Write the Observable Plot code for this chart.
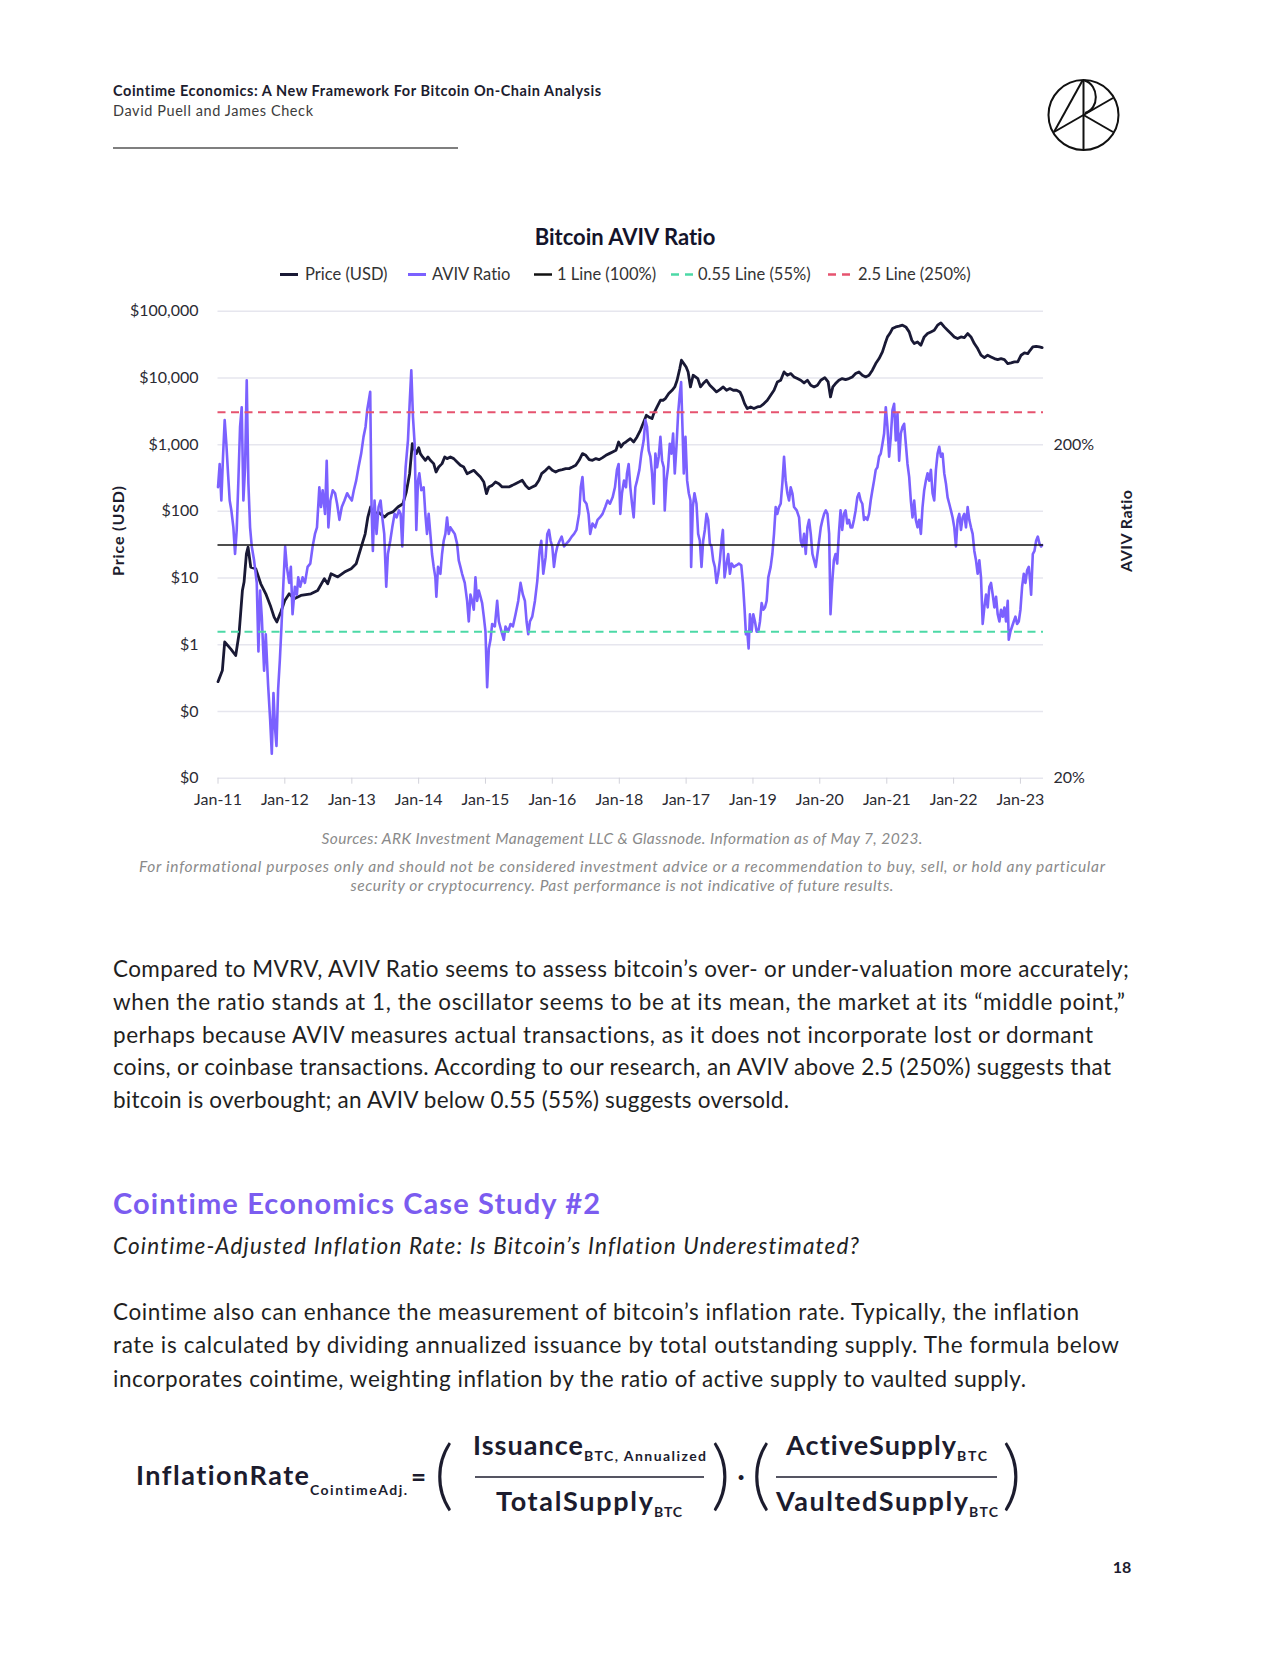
<!DOCTYPE html>
<html>
<head>
<meta charset="utf-8">
<script src="https://cdn.jsdelivr.net/npm/d3@7"></script>
<script src="https://cdn.jsdelivr.net/npm/@observablehq/plot@0.6"></script>
<style>
html, body { margin: 0; padding: 0; background: #fff; }
#page { position: relative; width: 1280px; height: 1656px; overflow: hidden; background: #fff; }
#txt { position: absolute; left: 0; top: 0; font-family: Lato, sans-serif; font-variant-ligatures: none; }
#chart { position: absolute; left: 100px; top: 290px; width: 1060px; height: 520px; }
#chart svg { position: absolute; left: 0; top: 0; }
</style>
</head>
<body>
<div id="page">
<svg id="txt" width="1280" height="1656" xmlns="http://www.w3.org/2000/svg">
  <!-- header -->
  <text x="113" y="95.5" font-size="14.5" font-weight="700" fill="#1c1c2e" textLength="488" lengthAdjust="spacing">Cointime Economics: A New Framework For Bitcoin On-Chain Analysis</text>
  <text x="113" y="116" font-size="14.5" fill="#3c3c3c" textLength="200" lengthAdjust="spacing">David Puell and James Check</text>
  <line x1="113" x2="458" y1="148" y2="148" stroke="#555" stroke-width="1.5"/>
  <g transform="translate(1083.5,115)" fill="none" stroke="#111" stroke-width="2">
    <circle r="35"/>
    <line x1="0" y1="-35" x2="0" y2="35"/>
    <line x1="-29.5" y1="17" x2="-1" y2="-34.5"/>
    <line x1="-29.5" y1="17" x2="29.5" y2="-17"/>
    <line x1="0" y1="0" x2="29.5" y2="17"/>
    <path d="M1,-34.5 C16,-30 16,-6 1.5,-2"/>
  </g>

  <!-- chart title and legend -->
  <text x="625" y="245" text-anchor="middle" font-size="22" font-weight="700" fill="#14142b">Bitcoin AVIV Ratio</text>
  <g font-size="16.5" fill="#333">
    <line x1="280" x2="298" y1="274.5" y2="274.5" stroke="#191935" stroke-width="3"/>
    <text x="305" y="280">Price (USD)</text>
    <line x1="408" x2="426" y1="274.5" y2="274.5" stroke="#7b61ff" stroke-width="3"/>
    <text x="432" y="280">AVIV Ratio</text>
    <line x1="534" x2="552" y1="274.5" y2="274.5" stroke="#121212" stroke-width="2.5"/>
    <text x="557" y="280">1 Line (100%)</text>
    <line x1="671" x2="695" y1="274.5" y2="274.5" stroke="#4cd9a6" stroke-width="2.5" stroke-dasharray="8,6"/>
    <text x="698" y="280">0.55 Line (55%)</text>
    <line x1="828" x2="852" y1="274.5" y2="274.5" stroke="#e6536f" stroke-width="2.5" stroke-dasharray="8,6"/>
    <text x="858" y="280">2.5 Line (250%)</text>
  </g>

  <!-- axis titles -->
  <text transform="translate(117,531) rotate(-90)" text-anchor="middle" dominant-baseline="central" font-size="16" font-weight="700" fill="#1c1c2e" textLength="90" lengthAdjust="spacing">Price (USD)</text>
  <text transform="translate(1125,531) rotate(-90)" text-anchor="middle" dominant-baseline="central" font-size="16" font-weight="700" fill="#1c1c2e" textLength="82" lengthAdjust="spacing">AVIV Ratio</text>

  <!-- sources -->
  <g font-size="15.5" font-style="italic" fill="#8a8a8a" text-anchor="middle">
    <text x="622" y="844" textLength="601" lengthAdjust="spacing">Sources: ARK Investment Management LLC &amp; Glassnode. Information as of May 7, 2023.</text>
    <text x="622" y="872" textLength="966" lengthAdjust="spacing">For informational purposes only and should not be considered investment advice or a recommendation to buy, sell, or hold any particular</text>
    <text x="622" y="891" textLength="543" lengthAdjust="spacing">security or cryptocurrency. Past performance is not indicative of future results.</text>
  </g>

  <!-- body paragraph 1 -->
  <g font-size="22.5" fill="#1f1f1f">
    <text x="113" y="977" textLength="1016" lengthAdjust="spacing">Compared to MVRV, AVIV Ratio seems to assess bitcoin’s over- or under-valuation more accurately;</text>
    <text x="113" y="1010" textLength="1012" lengthAdjust="spacing">when the ratio stands at 1, the oscillator seems to be at its mean, the market at its “middle point,”</text>
    <text x="113" y="1043" textLength="980" lengthAdjust="spacing">perhaps because AVIV measures actual transactions, as it does not incorporate lost or dormant</text>
    <text x="113" y="1075" textLength="998" lengthAdjust="spacing">coins, or coinbase transactions. According to our research, an AVIV above 2.5 (250%) suggests that</text>
    <text x="113" y="1108" textLength="676" lengthAdjust="spacing">bitcoin is overbought; an AVIV below 0.55 (55%) suggests oversold.</text>
  </g>

  <!-- heading -->
  <text x="113" y="1214" font-size="29" font-weight="700" fill="#7b5cf0" textLength="487" lengthAdjust="spacing">Cointime Economics Case Study #2</text>
  <text x="113" y="1254" font-size="22.5" font-style="italic" fill="#222" textLength="746" lengthAdjust="spacing">Cointime-Adjusted Inflation Rate: Is Bitcoin’s Inflation Underestimated?</text>

  <!-- body paragraph 2 -->
  <g font-size="22.5" fill="#1f1f1f">
    <text x="113" y="1320" textLength="966" lengthAdjust="spacing">Cointime also can enhance the measurement of bitcoin’s inflation rate. Typically, the inflation</text>
    <text x="113" y="1353" textLength="1006" lengthAdjust="spacing">rate is calculated by dividing annualized issuance by total outstanding supply. The formula below</text>
    <text x="113" y="1387" textLength="913" lengthAdjust="spacing">incorporates cointime, weighting inflation by the ratio of active supply to vaulted supply.</text>
  </g>

  <!-- formula -->
  <g font-weight="700" fill="#1c1c2e">
    <text x="136" y="1485" font-size="27" textLength="173" lengthAdjust="spacing">InflationRate</text>
    <text x="310" y="1495" font-size="14" textLength="97" lengthAdjust="spacing">CointimeAdj.</text>
    <text x="411" y="1486" font-size="26">=</text>
    <text x="434" y="1501" font-size="76" font-weight="300">(</text>
    <text x="473" y="1455" font-size="27" textLength="110" lengthAdjust="spacing">Issuance</text>
    <text x="584" y="1461" font-size="14" textLength="122" lengthAdjust="spacing">BTC, Annualized</text>
    <line x1="475" x2="704" y1="1477" y2="1477" stroke="#1c1c2e" stroke-width="1.6"/>
    <text x="496" y="1511" font-size="27" textLength="157" lengthAdjust="spacing">TotalSupply</text>
    <text x="654" y="1517" font-size="14" textLength="28" lengthAdjust="spacing">BTC</text>
    <text x="711" y="1501" font-size="76" font-weight="300">)</text>
    <text x="741" y="1486" font-size="26" text-anchor="middle">·</text>
    <text x="751" y="1501" font-size="76" font-weight="300">(</text>
    <text x="786" y="1455" font-size="27" textLength="170" lengthAdjust="spacing">ActiveSupply</text>
    <text x="957" y="1461" font-size="14" textLength="30" lengthAdjust="spacing">BTC</text>
    <line x1="776" x2="997" y1="1477" y2="1477" stroke="#1c1c2e" stroke-width="1.6"/>
    <text x="776" y="1511" font-size="27" textLength="192" lengthAdjust="spacing">VaultedSupply</text>
    <text x="969" y="1517" font-size="14" textLength="29" lengthAdjust="spacing">BTC</text>
    <text x="1002" y="1501" font-size="76" font-weight="300">)</text>
  </g>

  <text x="1122" y="1573" text-anchor="middle" font-size="16" font-weight="700" fill="#1c1c2e">18</text>
</svg>
<div id="chart"></div>
</div>

<script>
// ---------- data ----------
const xStart = "2011-01-01";
const xEnd = "2023-05-07";
const xTickYears = [2011, 2012, 2013, 2014, 2015, 2016, 2017, 2018, 2019, 2020, 2021, 2022, 2023];
const xTickLabels = ["Jan-11", "Jan-12", "Jan-13", "Jan-14", "Jan-15", "Jan-16", "Jan-18", "Jan-17", "Jan-19", "Jan-20", "Jan-21", "Jan-22", "Jan-23"];
const priceTicks = [100000, 10000, 1000, 100, 10, 1, 0.1, 0.01];
const priceTickLabels = ["$100,000", "$10,000", "$1,000", "$100", "$10", "$1", "$0", "$0"];
const ratioDomain = [0.2, 5.024];
const ratioTicks = [2, 0.2];
const ratioTickLabels = ["200%", "20%"];
const oneLine = 1;
const lowLine = 0.55;
const highLine = 2.5;

const priceYears = [
2011.000,2011.065,2011.100,2011.190,2011.265,2011.315,2011.365,2011.390,2011.425,2011.450,
2011.490,2011.565,2011.640,2011.715,2011.790,2011.840,2011.880,2011.940,2012.000,2012.065,
2012.140,2012.240,2012.390,2012.490,2012.590,2012.640,2012.690,2012.790,2012.890,2012.990,
2013.065,2013.140,2013.200,2013.240,2013.280,2013.340,2013.390,2013.490,2013.540,2013.615,
2013.690,2013.765,2013.815,2013.865,2013.905,2013.965,2014.000,2014.025,2014.060,2014.100,
2014.140,2014.175,2014.225,2014.260,2014.300,2014.350,2014.390,2014.425,2014.475,2014.525,
2014.575,2014.625,2014.675,2014.725,2014.775,2014.825,2014.875,2014.925,2014.975,2015.015,
2015.050,2015.100,2015.150,2015.200,2015.250,2015.300,2015.350,2015.400,2015.450,2015.500,
2015.550,2015.600,2015.650,2015.700,2015.750,2015.800,2015.840,2015.900,2015.950,2016.000,
2016.050,2016.100,2016.150,2016.200,2016.250,2016.300,2016.350,2016.400,2016.450,2016.500,
2016.550,2016.600,2016.650,2016.700,2016.750,2016.800,2016.850,2016.900,2016.950,2016.990,
2017.025,2017.060,2017.100,2017.165,2017.215,2017.265,2017.315,2017.365,2017.405,2017.440,
2017.490,2017.515,2017.565,2017.615,2017.655,2017.690,2017.740,2017.790,2017.830,2017.865,
2017.905,2017.930,2017.965,2018.000,2018.030,2018.065,2018.105,2018.140,2018.175,2018.215,
2018.255,2018.305,2018.355,2018.405,2018.455,2018.505,2018.555,2018.605,2018.655,2018.705,
2018.755,2018.805,2018.840,2018.875,2018.915,2018.965,2019.015,2019.065,2019.115,2019.165,
2019.215,2019.265,2019.315,2019.365,2019.415,2019.465,2019.515,2019.565,2019.615,2019.665,
2019.715,2019.765,2019.815,2019.865,2019.915,2019.965,2020.015,2020.075,2020.125,2020.160,
2020.195,2020.235,2020.285,2020.335,2020.385,2020.435,2020.485,2020.535,2020.585,2020.635,
2020.685,2020.735,2020.785,2020.835,2020.885,2020.935,2020.975,2021.010,2021.045,2021.085,
2021.135,2021.185,2021.235,2021.285,2021.335,2021.375,2021.410,2021.460,2021.510,2021.560,
2021.610,2021.660,2021.710,2021.760,2021.810,2021.860,2021.910,2021.960,2022.010,2022.060,
2022.110,2022.160,2022.210,2022.260,2022.310,2022.360,2022.410,2022.460,2022.510,2022.560,
2022.610,2022.660,2022.710,2022.760,2022.810,2022.860,2022.910,2022.960,2023.010,2023.060,
2023.110,2023.145,2023.185,2023.235,2023.285,2023.325
];
const priceUSD = [
0.28,0.41,1.10,0.87,0.69,1.46,6.5,8.7,23,29,
14.6,13.8,8.2,5.8,3.7,2.6,2.2,3.1,4.6,5.8,
4.9,5.5,5.8,6.5,9.8,8.2,11.6,10.4,12.3,13.8,
16.4,29,46,82,116,78,98,82,92,98,
116,130,195,367,1035,733,900,733,653,582,
653,582,519,389,462,519,653,617,653,617,
550,490,462,367,389,412,367,327,275,184,
232,245,275,260,232,232,232,245,260,275,
292,245,219,232,245,292,367,412,462,412,
389,412,422,437,437,462,490,582,733,692,
596,582,617,596,638,692,733,776,822,1096,
923,1035,1096,1230,1096,1303,1641,2188,2754,2600,
2455,2917,3670,4624,4624,4898,5821,6531,7328,9226,
13800,18400,16400,14600,12300,7330,10960,10350,9770,7330,
8220,9230,7760,6920,6170,6680,7330,6530,6920,6530,
6530,6170,5190,4120,3470,3670,3470,3670,3760,4120,
4620,5500,6530,8710,9230,12300,10960,11600,10350,9770,
9230,8410,9230,7760,7330,7760,9230,10100,8710,5190,
7330,8220,9230,9770,9440,9770,10350,11600,12300,10960,
10350,10960,13030,16400,19500,24550,32730,41200,46240,54950,
58210,59570,61660,58210,48980,36730,32730,34670,30900,41200,
46240,48980,51880,61660,66800,58210,51880,46240,41200,38900,
41200,40270,46240,41200,32730,27540,21880,20180,21880,20650,
19500,18840,19500,18840,16400,16790,17380,17380,21880,23710,
23170,25960,29100,29800,29100,28440
];

const avivYears = [
2011.000,2011.025,2011.050,2011.075,2011.100,2011.125,2011.150,2011.175,2011.200,2011.230,
2011.255,2011.280,2011.305,2011.330,2011.355,2011.380,2011.405,2011.430,2011.455,2011.480,
2011.505,2011.540,2011.580,2011.605,2011.630,2011.655,2011.690,2011.715,2011.750,2011.780,
2011.805,2011.830,2011.855,2011.875,2011.900,2011.925,2011.950,2011.980,2012.005,2012.030,
2012.065,2012.090,2012.115,2012.150,2012.180,2012.200,2012.230,2012.265,2012.300,2012.340,
2012.380,2012.415,2012.450,2012.480,2012.515,2012.540,2012.565,2012.600,2012.625,2012.650,
2012.680,2012.715,2012.750,2012.780,2012.815,2012.850,2012.890,2012.930,2012.965,2013.000,
2013.030,2013.065,2013.100,2013.140,2013.175,2013.205,2013.230,2013.255,2013.275,2013.295,
2013.315,2013.340,2013.370,2013.400,2013.430,2013.460,2013.485,2013.515,2013.540,2013.575,
2013.605,2013.640,2013.670,2013.705,2013.730,2013.755,2013.780,2013.805,2013.840,2013.865,
2013.890,2013.915,2013.940,2013.965,2013.990,2014.010,2014.040,2014.075,2014.100,2014.125,
2014.150,2014.175,2014.200,2014.225,2014.250,2014.265,2014.290,2014.325,2014.350,2014.375,
2014.400,2014.425,2014.450,2014.475,2014.500,2014.540,2014.575,2014.600,2014.625,2014.650,
2014.690,2014.725,2014.750,2014.775,2014.800,2014.825,2014.850,2014.875,2014.900,2014.925,
2014.950,2014.975,2015.000,2015.025,2015.050,2015.075,2015.100,2015.140,2015.175,2015.200,
2015.240,2015.275,2015.300,2015.340,2015.375,2015.410,2015.450,2015.490,2015.525,2015.560,
2015.590,2015.615,2015.640,2015.665,2015.700,2015.740,2015.775,2015.810,2015.835,2015.865,
2015.900,2015.925,2015.950,2015.975,2016.000,2016.025,2016.050,2016.075,2016.110,2016.140,
2016.175,2016.210,2016.250,2016.290,2016.325,2016.360,2016.400,2016.425,2016.450,2016.475,
2016.510,2016.540,2016.565,2016.600,2016.640,2016.675,2016.710,2016.750,2016.790,2016.825,
2016.860,2016.900,2016.935,2016.965,2016.990,2017.015,2017.040,2017.070,2017.100,2017.115,
2017.140,2017.165,2017.190,2017.215,2017.240,2017.265,2017.300,2017.330,2017.365,2017.390,
2017.415,2017.440,2017.465,2017.490,2017.515,2017.540,2017.565,2017.590,2017.615,2017.640,
2017.665,2017.680,2017.705,2017.730,2017.755,2017.780,2017.805,2017.830,2017.855,2017.880,
2017.905,2017.925,2017.945,2017.965,2017.990,2018.015,2018.040,2018.065,2018.075,2018.100,
2018.125,2018.155,2018.180,2018.205,2018.230,2018.255,2018.280,2018.305,2018.330,2018.355,
2018.380,2018.405,2018.430,2018.455,2018.480,2018.505,2018.530,2018.550,2018.575,2018.605,
2018.630,2018.655,2018.680,2018.715,2018.755,2018.790,2018.825,2018.850,2018.875,2018.895,
2018.915,2018.935,2018.955,2018.980,2019.005,2019.030,2019.055,2019.080,2019.105,2019.130,
2019.155,2019.180,2019.205,2019.230,2019.265,2019.290,2019.315,2019.340,2019.365,2019.390,
2019.415,2019.440,2019.465,2019.490,2019.515,2019.540,2019.565,2019.590,2019.615,2019.655,
2019.690,2019.715,2019.740,2019.765,2019.790,2019.815,2019.840,2019.865,2019.890,2019.915,
2019.940,2019.965,2019.990,2020.015,2020.040,2020.065,2020.090,2020.115,2020.140,2020.160,
2020.185,2020.210,2020.235,2020.260,2020.285,2020.310,2020.335,2020.360,2020.385,2020.410,
2020.435,2020.460,2020.485,2020.510,2020.535,2020.560,2020.585,2020.610,2020.635,2020.660,
2020.685,2020.710,2020.735,2020.760,2020.785,2020.810,2020.835,2020.860,2020.885,2020.910,
2020.935,2020.960,2020.985,2021.010,2021.035,2021.060,2021.085,2021.110,2021.135,2021.160,
2021.185,2021.210,2021.235,2021.260,2021.285,2021.310,2021.335,2021.360,2021.385,2021.410,
2021.435,2021.460,2021.485,2021.510,2021.535,2021.560,2021.585,2021.610,2021.635,2021.660,
2021.685,2021.710,2021.735,2021.760,2021.785,2021.810,2021.835,2021.860,2021.885,2021.910,
2021.935,2021.960,2021.985,2022.010,2022.035,2022.060,2022.085,2022.110,2022.135,2022.160,
2022.185,2022.210,2022.235,2022.260,2022.285,2022.310,2022.335,2022.360,2022.385,2022.410,
2022.435,2022.460,2022.485,2022.510,2022.535,2022.560,2022.585,2022.610,2022.635,2022.660,
2022.685,2022.710,2022.735,2022.760,2022.785,2022.810,2022.825,2022.850,2022.875,2022.900,
2022.925,2022.950,2022.975,2023.000,2023.025,2023.050,2023.075,2023.100,2023.125,2023.145,
2023.160,2023.185,2023.210,2023.235,2023.260,2023.285,2023.310,2023.325
];
const avivRatio = [
1.49,1.75,1.36,1.84,2.37,2.01,1.64,1.36,1.27,1.13,
0.94,1.11,1.56,2.26,2.59,1.36,1.71,3.12,1.53,1.13,
0.99,0.90,0.77,0.48,0.73,0.61,0.42,0.54,0.38,0.30,
0.237,0.36,0.28,0.25,0.37,0.45,0.57,0.78,0.99,0.86,
0.77,0.86,0.62,0.75,0.71,0.80,0.75,0.80,0.77,0.86,
0.88,0.99,1.08,1.13,1.49,1.30,1.46,1.24,1.79,1.13,
1.36,1.46,1.43,1.33,1.19,1.30,1.36,1.43,1.39,1.36,
1.46,1.56,1.71,1.88,2.11,2.26,2.54,2.72,2.88,1.30,
0.96,1.36,1.08,1.30,1.36,1.19,1.08,0.75,0.94,1.03,
1.13,1.24,1.21,1.27,1.24,0.99,1.36,1.71,2.06,2.65,
3.34,2.42,2.01,1.11,1.56,1.64,1.46,1.49,1.24,1.08,
1.24,1.08,0.94,0.86,0.80,0.70,0.86,0.82,0.94,1.03,
1.08,1.21,1.08,1.13,1.11,1.08,1.01,0.90,0.86,0.82,
0.77,0.68,0.59,0.71,0.68,0.64,0.80,0.68,0.73,0.70,
0.67,0.61,0.55,0.375,0.49,0.52,0.58,0.57,0.68,0.59,
0.55,0.52,0.57,0.55,0.58,0.57,0.62,0.68,0.77,0.71,
0.68,0.59,0.54,0.59,0.61,0.68,0.78,0.96,1.03,0.82,
0.92,1.08,1.11,1.03,0.99,0.86,0.94,0.99,1.03,1.06,
0.99,1.01,1.03,1.06,1.08,1.11,1.24,1.49,1.60,1.36,
1.33,1.24,1.08,1.16,1.13,1.19,1.21,1.24,1.30,1.36,
1.33,1.39,1.49,1.68,1.75,1.24,1.43,1.56,1.49,1.64,
1.75,1.49,1.33,1.21,1.49,1.56,1.68,1.88,2.06,2.37,
2.26,1.92,1.84,1.64,1.33,1.88,1.71,1.84,2.11,1.79,
1.71,1.27,1.56,1.71,2.01,1.88,2.16,1.64,1.97,2.48,
2.84,3.08,2.26,1.64,2.11,1.56,1.43,1.36,0.86,1.30,
1.43,1.33,1.08,1.03,0.86,1.03,1.11,1.24,1.19,1.01,
0.99,0.90,0.86,0.77,0.82,0.90,1.03,1.11,0.80,0.88,
0.94,0.82,0.88,0.86,0.87,0.88,0.87,0.77,0.64,0.54,
0.55,0.49,0.62,0.55,0.62,0.59,0.55,0.55,0.59,0.67,
0.64,0.65,0.68,0.80,0.86,0.94,1.08,1.30,1.24,1.30,
1.33,1.53,1.84,1.56,1.43,1.36,1.49,1.43,1.30,1.27,
1.21,1.03,0.99,1.08,0.94,1.13,1.19,1.08,0.94,0.90,
0.86,0.94,1.03,1.13,1.19,1.24,1.27,1.24,1.08,0.62,
0.77,0.90,0.94,0.88,1.08,1.27,1.11,1.24,1.27,1.16,
1.19,1.13,1.13,1.19,1.27,1.39,1.43,1.36,1.33,1.19,
1.21,1.19,1.24,1.36,1.46,1.56,1.68,1.71,1.84,1.88,
2.01,2.16,2.59,2.26,1.84,2.11,2.54,2.65,2.06,2.48,
1.79,2.16,2.26,2.31,2.01,1.75,1.60,1.36,1.21,1.36,
1.19,1.13,1.19,1.08,1.30,1.46,1.56,1.64,1.56,1.68,
1.43,1.36,1.68,1.88,1.97,1.84,1.88,1.64,1.53,1.39,
1.33,1.27,1.21,1.13,0.99,1.19,1.24,1.11,1.21,1.24,
1.13,1.30,1.19,1.13,1.08,0.96,0.90,0.82,0.90,0.80,
0.58,0.65,0.71,0.65,0.75,0.77,0.71,0.65,0.70,0.62,
0.59,0.64,0.61,0.65,0.59,0.68,0.52,0.55,0.57,0.59,
0.61,0.58,0.59,0.64,0.75,0.82,0.77,0.84,0.86,0.78,
0.71,0.94,0.96,1.03,1.06,1.01,0.99,1.00
];

// ---------- build rows ----------
function yearToDate(y) {
  const Y = Math.floor(y);
  const s = Date.UTC(Y, 0, 1), e = Date.UTC(Y + 1, 0, 1);
  return new Date(s + (y - Y) * (e - s));
}
const priceRows = priceYears.map((y, i) => ({date: yearToDate(y), value: priceUSD[i]}));
const avivRows = avivYears.map((y, i) => ({date: yearToDate(y), value: avivRatio[i]}));
const xTicks = xTickYears.map(y => new Date(Date.UTC(y, 0, 1)));
const xLabelOf = new Map(xTickYears.map((y, i) => [y, xTickLabels[i]]));
const priceLabelOf = new Map(priceTicks.map((t, i) => [t, priceTickLabels[i]]));
const ratioLabelOf = new Map(ratioTicks.map((t, i) => [t, ratioTickLabels[i]]));

const NAVY = "#191935", PURPLE = "#7b61ff", GREEN = "#4cd9a6", RED = "#e6536f", GRID = "#e6e6ee";

const frame = {
  width: 1060, height: 520,
  marginLeft: 117.5, marginRight: 117, marginTop: 20.7, marginBottom: 32.3
};
const baseStyle = {fontFamily: "Lato, sans-serif", fontSize: "16px", color: "#2b2b33", background: "transparent", overflow: "visible"};
const xScale = {type: "utc", domain: [new Date(xStart), new Date(xEnd)]};

const priceChart = Plot.plot({
  ...frame,
  style: baseStyle,
  x: xScale,
  y: {type: "log", domain: [0.01, 100000]},
  marks: [
    Plot.gridY(priceTicks, {stroke: GRID, strokeOpacity: 1, strokeWidth: 1.5}),
    Plot.axisX(xTicks, {tickFormat: d => xLabelOf.get(d.getUTCFullYear()), tickSize: 6, tickPadding: 9, stroke: "#d2d2da", fill: "#2b2b33", label: null}),
    Plot.axisY(priceTicks, {tickFormat: d => priceLabelOf.get(d), tickSize: 0, tickPadding: 19.5, label: null}),
    Plot.line(priceRows, {x: "date", y: "value", stroke: NAVY, strokeWidth: 2.8})
  ]
});

const ratioChart = Plot.plot({
  ...frame,
  style: baseStyle,
  x: {...xScale, axis: null},
  y: {type: "log", domain: ratioDomain},
  marks: [
    Plot.axisY(ratioTicks, {anchor: "right", tickFormat: d => ratioLabelOf.get(d), tickSize: 0, tickPadding: 10, label: null}),
    Plot.line(avivRows, {x: "date", y: "value", stroke: PURPLE, strokeWidth: 2.6}),
    Plot.ruleY([oneLine], {stroke: "#121212", strokeWidth: 1.6}),
    Plot.ruleY([lowLine], {stroke: GREEN, strokeWidth: 2, strokeDasharray: "8,5.5"}),
    Plot.ruleY([highLine], {stroke: RED, strokeWidth: 2, strokeDasharray: "8,5.5"})
  ]
});

const chart = document.getElementById("chart");
chart.appendChild(priceChart);
chart.appendChild(ratioChart);
</script>
</body>
</html>
